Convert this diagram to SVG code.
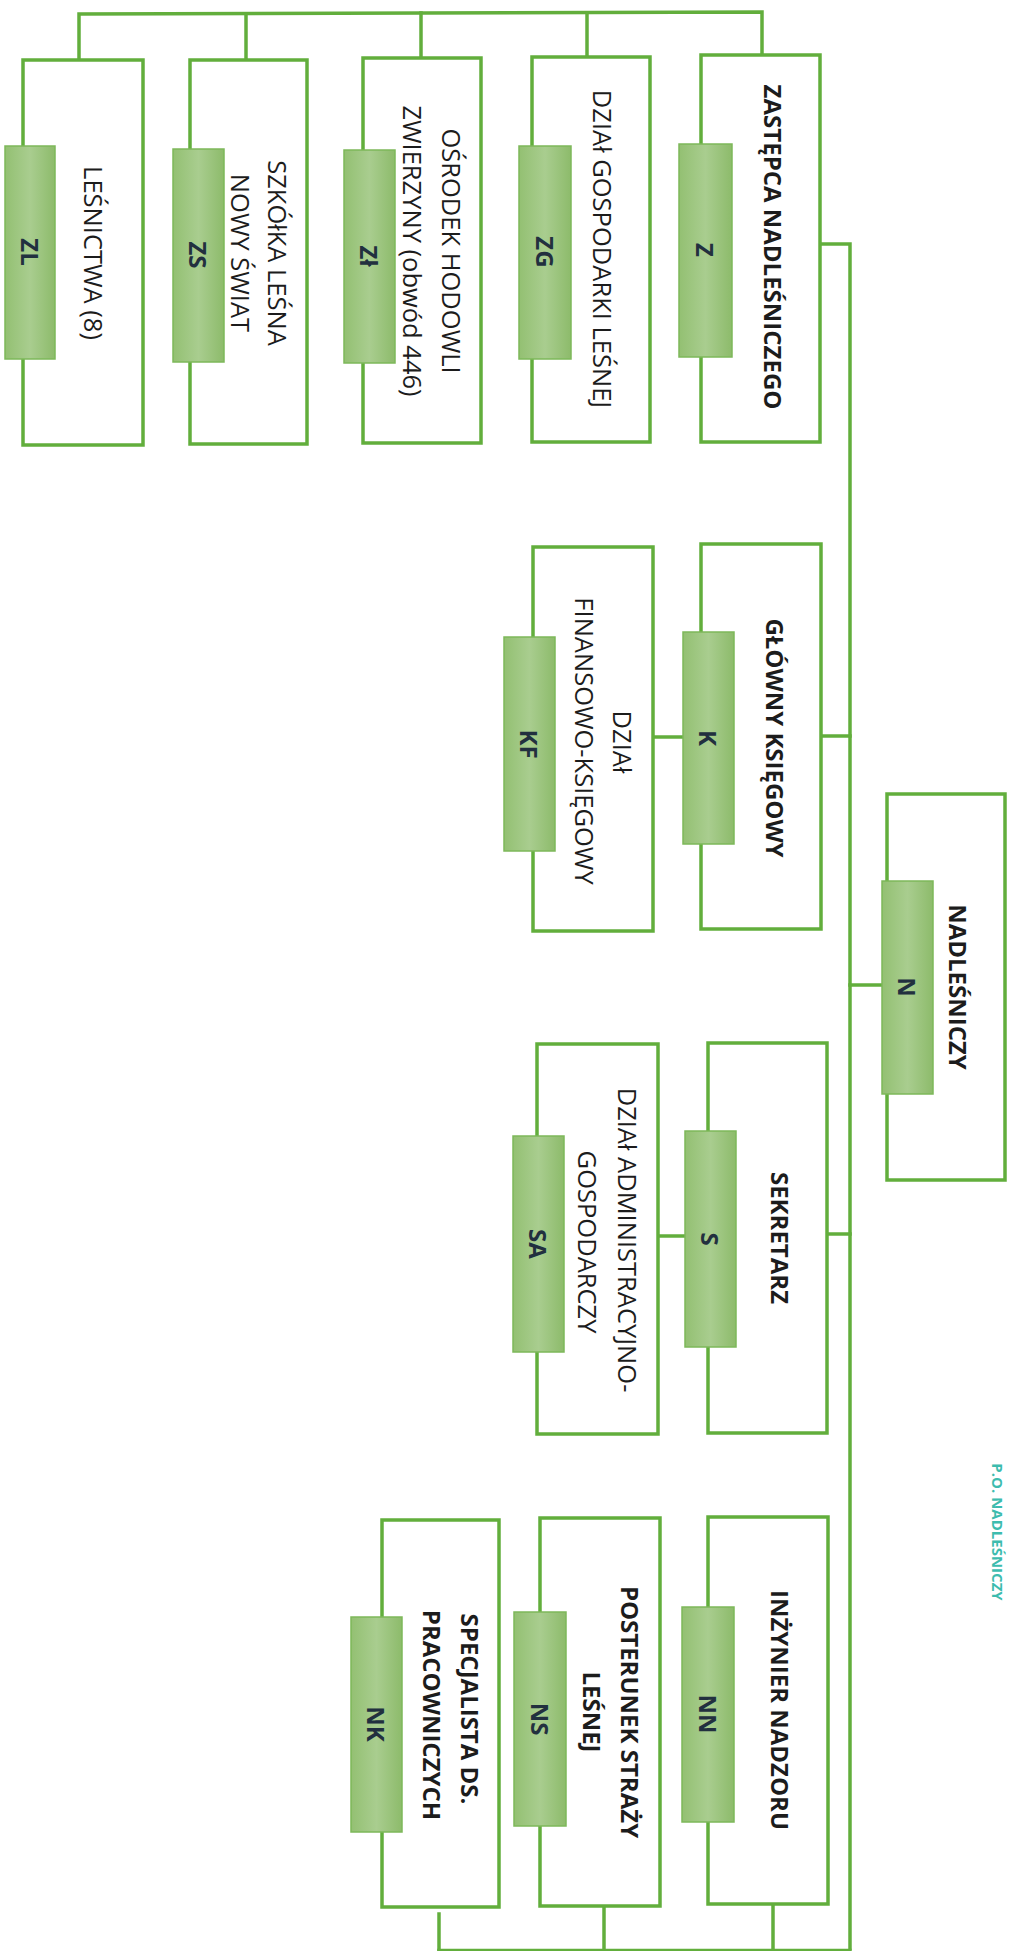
<svg xmlns="http://www.w3.org/2000/svg" width="1009" height="1951" viewBox="0 0 1009 1951">
<defs>
<linearGradient id="tagGrad" x1="0" y1="0" x2="1" y2="0">
<stop offset="0" stop-color="#93c072"/>
<stop offset="0.5" stop-color="#a9cd8f"/>
<stop offset="1" stop-color="#8dbb6b"/>
</linearGradient>
<style>
.box{fill:#ffffff;stroke:#62ae3c;stroke-width:3.5}
.tag{fill:url(#tagGrad);stroke:#7db85a;stroke-width:1.5}
.ln{fill:none;stroke:#62ae3c;stroke-width:3.5;stroke-linecap:square}
.t{font-family:"Open Sans","Liberation Sans",sans-serif;font-size:25.5px;fill:#1c1c1c;text-anchor:middle;dominant-baseline:central}
.b{font-family:"Open Sans","Liberation Sans",sans-serif;font-size:24px;font-weight:bold;fill:#1c1c1c;text-anchor:middle;dominant-baseline:central}
.k{font-family:"Open Sans","Liberation Sans",sans-serif;font-size:24px;font-weight:bold;fill:#22303f;text-anchor:middle;dominant-baseline:central}
.po{font-family:"Open Sans","Liberation Sans",sans-serif;font-size:15px;font-weight:bold;fill:#3dbcae;text-anchor:middle;dominant-baseline:central}
</style>
</defs>
<rect width="1009" height="1951" fill="#ffffff"/>

<g id="connectors">
<polyline class="ln" points="79,58 79,14 762,12 762,55"/>
<line class="ln" x1="246" y1="14" x2="246" y2="60"/>
<line class="ln" x1="421" y1="13" x2="421" y2="58"/>
<line class="ln" x1="587" y1="13" x2="587" y2="57"/>
<polyline class="ln" points="820,244 850,244 850,1948"/>
<line class="ln" x1="821" y1="736" x2="850" y2="736"/>
<line class="ln" x1="653" y1="737" x2="683" y2="737"/>
<line class="ln" x1="850" y1="985" x2="882" y2="985"/>
<line class="ln" x1="827" y1="1234" x2="850" y2="1234"/>
<line class="ln" x1="658" y1="1236" x2="685" y2="1236"/>
<line class="ln" x1="773" y1="1904" x2="773" y2="1950"/>
<line class="ln" x1="604" y1="1906" x2="604" y2="1950"/>
<line class="ln" x1="439" y1="1914" x2="439" y2="1950"/>
<line class="ln" x1="439" y1="1950.5" x2="850" y2="1950.5"/>
</g>

<g id="node-ZL">
<rect class="box" x="23" y="60" width="120" height="385"/>
<rect class="tag" x="5" y="146" width="50" height="213"/>
<text class="k" transform="translate(30,252) rotate(90)">ZL</text>
<text class="t" transform="translate(94,253) rotate(90)">LEŚNICTWA (8)</text>
</g>

<g id="node-ZS">
<rect class="box" x="190" y="60" width="117" height="384"/>
<rect class="tag" x="173" y="149" width="51" height="213"/>
<text class="k" transform="translate(198,255) rotate(90)">ZS</text>
<text class="t" transform="translate(278,253) rotate(90)">SZKÓłKA LEŚNA</text>
<text class="t" transform="translate(241,253) rotate(90)">NOWY ŚWIAT</text>
</g>

<g id="node-Zl">
<rect class="box" x="363" y="58" width="118" height="385"/>
<rect class="tag" x="344" y="150" width="51" height="213"/>
<text class="k" transform="translate(369,256) rotate(90)">Zł</text>
<text class="t" transform="translate(452,251) rotate(90)">OŚRODEK HODOWLI</text>
<text class="t" transform="translate(413,251) rotate(90)">ZWIERZYNY (obwód 446)</text>
</g>

<g id="node-ZG">
<rect class="box" x="532" y="57" width="118" height="385"/>
<rect class="tag" x="519" y="146" width="52" height="213"/>
<text class="k" transform="translate(545,252) rotate(90)">ZG</text>
<text class="t" transform="translate(603,249) rotate(90)">DZIAł GOSPODARKI LEŚNEJ</text>
</g>

<g id="node-Z">
<rect class="box" x="701" y="55" width="119" height="387"/>
<rect class="tag" x="679" y="144" width="53" height="213"/>
<text class="k" transform="translate(705,250) rotate(90)">Z</text>
<text class="b" transform="translate(773,247) rotate(90)">ZASTĘPCA NADLEŚNICZEGO</text>
</g>

<g id="node-KF">
<rect class="box" x="533" y="547" width="120" height="384"/>
<rect class="tag" x="504" y="637" width="51" height="214"/>
<text class="k" transform="translate(529,744) rotate(90)">KF</text>
<text class="t" transform="translate(623,742) rotate(90)">DZIAł</text>
<text class="t" transform="translate(585,741) rotate(90)">FINANSOWO-KSIĘGOWY</text>
</g>

<g id="node-K">
<rect class="box" x="701" y="544" width="120" height="385"/>
<rect class="tag" x="683" y="632" width="51" height="212"/>
<text class="k" transform="translate(708,738) rotate(90)">K</text>
<text class="b" transform="translate(775,738) rotate(90)">GŁÓWNY KSIĘGOWY</text>
</g>

<g id="node-N">
<rect class="box" x="887" y="794" width="118" height="386"/>
<rect class="tag" x="882" y="881" width="51" height="213"/>
<text class="k" transform="translate(907,987) rotate(90)">N</text>
<text class="b" transform="translate(958,987) rotate(90)">NADLEŚNICZY</text>
</g>

<g id="node-SA">
<rect class="box" x="537" y="1044" width="121" height="390"/>
<rect class="tag" x="513" y="1136" width="51" height="216"/>
<text class="k" transform="translate(538,1244) rotate(90)">SA</text>
<text class="t" transform="translate(628,1240) rotate(90)">DZIAł ADMINISTRACYJNO-</text>
<text class="t" transform="translate(588,1242) rotate(90)">GOSPODARCZY</text>
</g>

<g id="node-S">
<rect class="box" x="708" y="1043" width="119" height="390"/>
<rect class="tag" x="685" y="1131" width="51" height="216"/>
<text class="k" transform="translate(710,1239) rotate(90)">S</text>
<text class="b" transform="translate(780,1238) rotate(90)">SEKRETARZ</text>
</g>

<g id="node-NK">
<rect class="box" x="382" y="1520" width="117" height="387"/>
<rect class="tag" x="351" y="1617" width="51" height="215"/>
<text class="k" transform="translate(376,1724) rotate(90)">NK</text>
<text class="b" transform="translate(470,1709) rotate(90)">SPECJALISTA DS.</text>
<text class="b" transform="translate(432,1715) rotate(90)">PRACOWNICZYCH</text>
</g>

<g id="node-NS">
<rect class="box" x="540" y="1518" width="120" height="388"/>
<rect class="tag" x="514" y="1612" width="52" height="214"/>
<text class="k" transform="translate(540,1719) rotate(90)">NS</text>
<text class="b" transform="translate(630,1712) rotate(90)">POSTERUNEK STRAŻY</text>
<text class="b" transform="translate(592,1712) rotate(90)">LEŚNEJ</text>
</g>

<g id="node-NN">
<rect class="box" x="708" y="1517" width="120" height="387"/>
<rect class="tag" x="682" y="1607" width="52" height="215"/>
<text class="k" transform="translate(708,1714) rotate(90)">NN</text>
<text class="b" transform="translate(780,1710) rotate(90)">INŻYNIER NADZORU</text>
</g>

<text class="po" transform="translate(998,1532) rotate(90)">P.O. NADLEŚNICZY</text>
</svg>
